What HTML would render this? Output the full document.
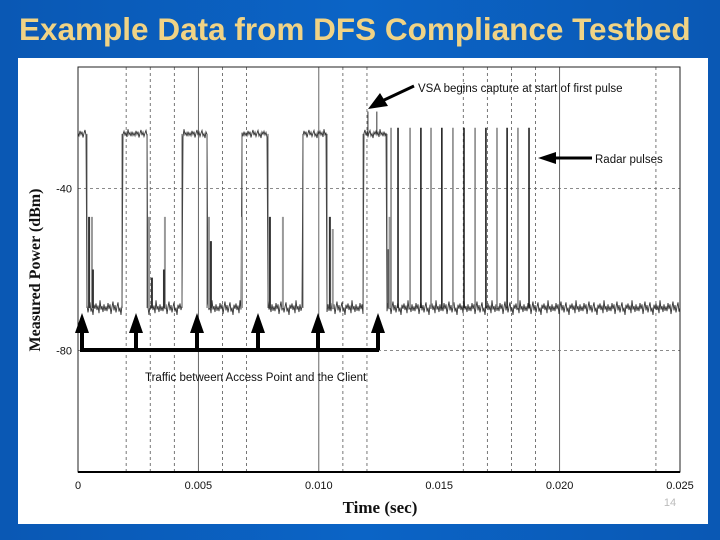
<!DOCTYPE html>
<html><head><meta charset="utf-8"><style>
body{margin:0;width:720px;height:540px;overflow:hidden;background:#0b62c2;font-family:"Liberation Sans",sans-serif}
#bg{position:absolute;left:0;top:0;width:720px;height:540px;background:linear-gradient(90deg,#0a58b4 0%,#0b64c6 50%,#0a58b4 100%)}
#title{position:absolute;left:19px;top:11px;white-space:nowrap;color:#f0d385;font-size:31.5px;font-weight:bold;font-family:"Liberation Sans",sans-serif}
#panel{position:absolute;left:18px;top:58px;width:690px;height:466px;background:#fff}
svg{position:absolute;left:0;top:0}
</style></head><body>
<div id="bg"></div>
<div id="title">Example Data from DFS Compliance Testbed</div>
<div id="panel"></div>
<svg id="chart" width="720" height="540"></svg>
<script>
const xTicks=[0,0.005,0.010,0.015,0.020,0.025];
const xTickLabels=["0","0.005","0.010","0.015","0.020","0.025"];
const yTicks=[-40,-80];
const yTickLabels=["-40","-80"];
const dashedGrid=[0.002,0.003,0.004,0.006,0.007,0.011,0.012,0.016,0.017,0.018,0.019,0.024];
const solidGrid=[0.005,0.010,0.020];
const burstStart=[0,0.00183,0.00432,0.00681,0.00934,0.01184];
const burstEnd=[0.00037,0.00287,0.00536,0.00789,0.01034,0.01283];
const highLevel=-26.5;
const lowLevel=-69.5;
const noise=[0.4,-0.8,1.2,-0.3,0.9,-1.5,0.2,1.6,-0.6,0.7,-1.1,0.3,1.4,-0.9,0.1,-1.7,0.8,-0.2,1.1,-0.5,0.6,-1.3,1.9,-0.4,0.5,-1.0,0.9,-0.7];
const spikeTimes=[0.00046,0.00058,0.00062,0.00295,0.00307,0.00361,0.00357,0.00544,0.00552,0.00681,0.00797,0.00851,0.01046,0.01058,0.01290,0.01294];
const spikeLevels=[-47,-47,-60,-47,-62,-47,-60,-47,-53,-47,-47,-47,-47,-50,-55,-47];
const pulseTimes=[0.01300,0.01329,0.01379,0.01424,0.01466,0.01511,0.01557,0.01603,0.01649,0.01694,0.01740,0.01782,0.01827,0.01873];
const pulseLevels=[-25,-25,-25,-25,-25,-25,-25,-25,-25,-25,-25,-25,-25,-25];
const vsaTimes=[0.01204,0.01241];
const vsaLevels=[-21,-21];

const svg=document.getElementById('chart');
const NS='http://www.w3.org/2000/svg';
const X0=78,X1=680,Y0=472,Y1=67;
const xs=t=>X0+(t/0.025)*(X1-X0);
const ys=v=>Y0-((v+110)/100)*(Y0-Y1);
function mk(tag,attrs,parent){const e=document.createElementNS(NS,tag);for(const k in attrs)e.setAttribute(k,attrs[k]);(parent||svg).appendChild(e);return e;}

dashedGrid.forEach(t=>{const l=mk('line',{x1:xs(t),x2:xs(t),y1:Y1,y2:Y0,stroke:'#555','stroke-width':0.8,'stroke-dasharray':'3,3'});

});
solidGrid.forEach(t=>{const l=mk('line',{x1:xs(t),x2:xs(t),y1:Y1,y2:Y0,stroke:'#555','stroke-width':0.9});

});
yTicks.forEach((v,i)=>{const l=mk('line',{x1:X0,x2:X1,y1:ys(v),y2:ys(v),stroke:'#666','stroke-width':0.8,'stroke-dasharray':'3,3'});


const tx=mk('text',{x:X0-6,y:ys(v)+4,'text-anchor':'end','font-size':11,fill:'#111'});tx.textContent=yTickLabels[i];

});
xTicks.forEach((t,i)=>{const tx=mk('text',{x:xs(t),y:Y0+17,'text-anchor':'middle','font-size':11,fill:'#111'});tx.textContent=xTickLabels[i];

});

let pts=[];const N=602;
for(let i=0;i<=N;i++){const t=0.025*i/N;let inB=false;
for(let b=0;b<burstStart.length;b++)if(t>=burstStart[b]&&t<=burstEnd[b])inB=true;
const n=noise[i%noise.length];const v=inB?highLevel+n*0.6:lowLevel+n;
pts.push(xs(t).toFixed(1)+','+ys(v).toFixed(1));}
const tr=mk('polyline',{points:pts.join(' '),fill:'none',stroke:'#333','stroke-width':0.9});


burstStart.forEach((s,b)=>{[s,burstEnd[b]].forEach(t=>{const l=mk('line',{x1:xs(t),x2:xs(t),y1:ys(highLevel),y2:ys(lowLevel),stroke:'#555','stroke-width':1});

});});
spikeTimes.forEach((t,i)=>{const l=mk('line',{x1:xs(t),x2:xs(t),y1:ys(spikeLevels[i]),y2:ys(lowLevel),stroke:i%2?'#999':'#333','stroke-width':2});

});
pulseTimes.forEach((t,i)=>{const l=mk('line',{x1:xs(t),x2:xs(t),y1:ys(pulseLevels[i]),y2:ys(lowLevel),stroke:i%2?'#222':'#888','stroke-width':1.6});

});
vsaTimes.forEach((t,i)=>{const l=mk('line',{x1:xs(t),x2:xs(t),y1:ys(vsaLevels[i]),y2:ys(highLevel),stroke:'#333','stroke-width':1});

});

const box=mk('rect',{x:X0,y:Y1,width:X1-X0,height:Y0-Y1,fill:'none',stroke:'#222','stroke-width':1});


const ax=mk('line',{x1:X0,x2:X1,y1:Y0,y2:Y0,stroke:'#000','stroke-width':2});



const g=mk('g',{});


mk('line',{x1:80,x2:379,y1:350,y2:350,stroke:'#000','stroke-width':4},g);
[82,136,197,258,318,378].forEach(x=>{mk('line',{x1:x,x2:x,y1:350,y2:330,stroke:'#000','stroke-width':4},g);
mk('polygon',{points:`${x-7},333 ${x+7},333 ${x},313`,fill:'#000'},g);});
const t1=mk('text',{x:145,y:381,'font-size':11.5,fill:'#111'},g);t1.textContent='Traffic between Access Point and the Client';
const g2=mk('g',{});


mk('line',{x1:414,x2:382,y1:86,y2:101,stroke:'#000','stroke-width':3},g2);
mk('polygon',{points:'368,109 380,93 388,106',fill:'#000'},g2);
const t2=mk('text',{x:418,y:92,'font-size':11.5,fill:'#111'},g2);t2.textContent='VSA begins capture at start of first pulse';
const g3=mk('g',{});


mk('line',{x1:550,x2:592,y1:158,y2:158,stroke:'#000','stroke-width':3},g3);
mk('polygon',{points:'538,158 556,152 556,164',fill:'#000'},g3);
const t3=mk('text',{x:595,y:163,'font-size':11.5,fill:'#111'},g3);t3.textContent='Radar pulses';

const yl=mk('text',{x:0,y:0,transform:'translate(40,270) rotate(-90)','text-anchor':'middle','font-size':16,'font-weight':'bold','font-family':'Liberation Serif,serif',fill:'#111'});yl.textContent='Measured Power (dBm)';


const xl=mk('text',{x:380,y:513,'text-anchor':'middle','font-size':17,'font-weight':'bold','font-family':'Liberation Serif,serif',fill:'#111'});xl.textContent='Time (sec)';


const pn=mk('text',{x:670,y:506,'text-anchor':'middle','font-size':11,fill:'#bbb'});pn.textContent='14';


</script>
</body></html>
